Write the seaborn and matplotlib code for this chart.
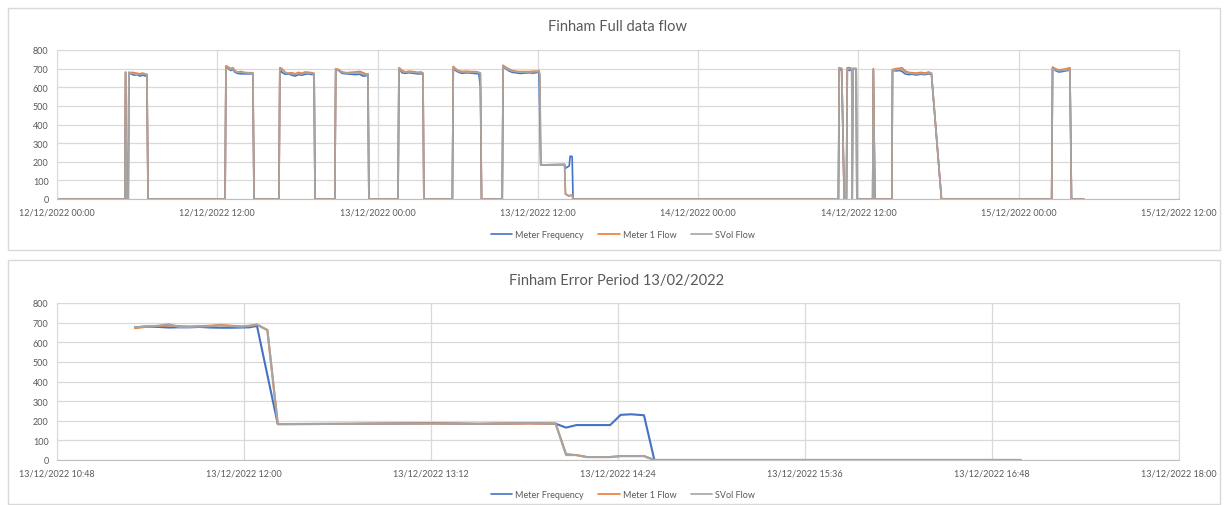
import pandas as pd
import numpy as np
import matplotlib.pyplot as plt
import matplotlib.dates as mdates
from matplotlib.patches import Rectangle
import seaborn as sns

sns.set_style("white")
plt.rcParams['font.family'] = ['Lato', 'DejaVu Sans']

# ==================== DATA ====================
series_names = ['Meter Frequency', 'Meter 1 Flow', 'SVol Flow']
series_colors = ['#4472C4', '#ED7D31', '#A5A5A5']

# Full data flow (12/12 - 15/12), one line per run block
full_times = [
    "2022-12-12 00:00", "2022-12-12 05:05", "2022-12-12 05:08", "2022-12-12 05:13", "2022-12-12 05:20", "2022-12-12 05:23", "2022-12-12 05:35", "2022-12-12 05:47", "2022-12-12 06:00", "2022-12-12 06:12", "2022-12-12 06:25", "2022-12-12 06:40", "2022-12-12 06:44", "2022-12-12 06:49",
    "2022-12-12 12:35", "2022-12-12 12:39", "2022-12-12 12:50", "2022-12-12 13:00", "2022-12-12 13:10", "2022-12-12 13:20", "2022-12-12 13:30", "2022-12-12 13:45", "2022-12-12 14:00", "2022-12-12 14:20", "2022-12-12 14:40", "2022-12-12 14:45",
    "2022-12-12 16:37", "2022-12-12 16:41", "2022-12-12 16:50", "2022-12-12 17:05", "2022-12-12 17:20", "2022-12-12 17:35", "2022-12-12 17:50", "2022-12-12 18:05", "2022-12-12 18:20", "2022-12-12 18:35", "2022-12-12 18:50", "2022-12-12 19:05", "2022-12-12 19:15", "2022-12-12 19:19",
    "2022-12-12 20:48", "2022-12-12 20:52", "2022-12-12 21:05", "2022-12-12 21:20", "2022-12-12 21:40", "2022-12-12 22:00", "2022-12-12 22:20", "2022-12-12 22:40", "2022-12-12 22:55", "2022-12-12 23:10", "2022-12-12 23:17", "2022-12-12 23:21",
    "2022-12-13 01:32", "2022-12-13 01:36", "2022-12-13 01:50", "2022-12-13 02:05", "2022-12-13 02:20", "2022-12-13 02:40", "2022-12-13 03:00", "2022-12-13 03:15", "2022-12-13 03:24", "2022-12-13 03:28",
    "2022-12-13 05:36", "2022-12-13 05:40", "2022-12-13 05:50", "2022-12-13 06:05", "2022-12-13 06:20", "2022-12-13 06:40", "2022-12-13 07:00", "2022-12-13 07:20", "2022-12-13 07:35", "2022-12-13 07:42", "2022-12-13 07:47",
    "2022-12-13 09:20", "2022-12-13 09:24", "2022-12-13 09:35", "2022-12-13 09:50", "2022-12-13 10:05", "2022-12-13 10:20", "2022-12-13 10:40", "2022-12-13 11:00", "2022-12-13 11:20", "2022-12-13 11:40", "2022-12-13 12:00", "2022-12-13 12:05", "2022-12-13 12:09", "2022-12-13 12:13", "2022-12-13 14:00", "2022-12-13 14:04", "2022-12-13 14:21", "2022-12-13 14:25", "2022-12-13 14:34", "2022-12-13 14:38",
    "2022-12-14 10:30", "2022-12-14 10:34", "2022-12-14 10:45", "2022-12-14 10:56", "2022-12-14 11:06", "2022-12-14 11:10", "2022-12-14 11:20", "2022-12-14 11:30", "2022-12-14 11:32", "2022-12-14 11:35", "2022-12-14 11:50", "2022-12-14 11:53", "2022-12-14 13:04", "2022-12-14 13:07", "2022-12-14 13:14",
    "2022-12-14 14:30", "2022-12-14 14:33", "2022-12-14 14:50", "2022-12-14 15:05", "2022-12-14 15:15", "2022-12-14 15:30", "2022-12-14 15:45", "2022-12-14 16:00", "2022-12-14 16:20", "2022-12-14 16:40", "2022-12-14 17:00", "2022-12-14 17:15", "2022-12-14 17:28", "2022-12-14 18:13",
    "2022-12-15 02:28", "2022-12-15 02:32", "2022-12-15 02:45", "2022-12-15 03:00", "2022-12-15 03:15", "2022-12-15 03:30", "2022-12-15 03:50", "2022-12-15 03:57", "2022-12-15 04:52",
]
full_freq = [
    0, 0, 680, 0, 0, 680, 670, 665, 668, 660, 665, 660, 665, 0,
    0, 710, 700, 690, 695, 680, 675, 672, 672, 672, 672, 0,
    0, 700, 680, 670, 672, 665, 660, 668, 665, 670, 672, 668, 670, 0,
    0, 695, 690, 675, 672, 670, 668, 670, 660, 662, 668, 0,
    0, 700, 678, 675, 678, 675, 672, 672, 670, 0,
    0, 700, 690, 680, 675, 678, 676, 674, 672, 600, 0,
    0, 712, 700, 688, 680, 678, 674, 676, 678, 676, 680, 683, 433, 183, 185, 165, 178, 230, 228, 0,
    0, 705, 690, 0, 0, 700, 690, 700, 0, 700, 700, 0, 0, 690, 0,
    0, 690, 688, 690, 685, 672, 668, 670, 666, 670, 668, 672, 670, 0,
    0, 705, 690, 682, 684, 688, 692, 0, 0,
]
full_meter1 = [
    0, 0, 680, 0, 0, 675, 680, 678, 675, 672, 676, 670, 670, 0,
    0, 715, 708, 700, 705, 690, 680, 685, 680, 678, 678, 0,
    0, 705, 700, 680, 676, 678, 672, 680, 675, 682, 680, 678, 675, 0,
    0, 700, 695, 682, 678, 680, 682, 685, 678, 670, 672, 0,
    0, 705, 690, 682, 686, 684, 680, 682, 676, 0,
    0, 712, 700, 688, 685, 686, 684, 684, 680, 676, 0,
    0, 718, 708, 698, 690, 686, 684, 684, 684, 686, 686, 690, 662, 183, 185, 28, 15, 20, 20, 0,
    0, 705, 700, 0, 0, 705, 705, 700, 0, 700, 700, 0, 0, 700, 0,
    0, 695, 700, 702, 705, 688, 680, 678, 676, 680, 676, 682, 676, 0,
    0, 708, 700, 692, 695, 698, 705, 0, 0,
]
full_svol = [
    0, 0, 680, 0, 0, 680, 675, 672, 670, 668, 670, 668, 668, 0,
    0, 705, 705, 695, 700, 685, 680, 680, 678, 676, 676, 0,
    0, 700, 695, 678, 675, 672, 668, 674, 672, 676, 676, 674, 672, 0,
    0, 698, 690, 680, 676, 675, 676, 678, 670, 666, 670, 0,
    0, 700, 685, 680, 682, 680, 678, 676, 674, 0,
    0, 708, 696, 684, 682, 682, 680, 680, 678, 674, 0,
    0, 710, 704, 694, 686, 684, 680, 680, 682, 682, 684, 690, 662, 183, 185, 25, 15, 20, 20, 0,
    0, 705, 700, 0, 0, 700, 698, 700, 0, 700, 700, 0, 0, 690, 0,
    0, 692, 694, 696, 695, 680, 676, 674, 672, 674, 672, 676, 674, 0,
    0, 700, 695, 688, 690, 692, 696, 0, 0,
]

# Error period on 13/12
err_times = [
    "11:18", "11:22", "11:27", "11:31", "11:35", "11:39", "11:43", "11:47", "11:51", "11:55",
    "11:59", "12:02", "12:05", "12:09", "12:13", "12:40", "13:12", "13:30", "13:50", "14:00",
    "14:04", "14:08", "14:12", "14:21", "14:25", "14:29", "14:34", "14:38", "16:59",
]
err_freq = [
    676, 680, 678, 675, 676, 676, 678, 675, 674, 674,
    675, 676, 683, 433, 183, 184, 188, 184, 188, 185,
    165, 178, 178, 178, 230, 233, 228, 0, 0,
]
err_meter1 = [
    672, 678, 683, 686, 682, 680, 682, 684, 688, 684,
    680, 682, 690, 662, 183, 184, 186, 184, 186, 185,
    30, 25, 15, 15, 20, 20, 20, 0, 0,
]
err_svol = [
    676, 680, 684, 692, 678, 678, 680, 682, 686, 682,
    680, 684, 690, 662, 183, 184, 186, 184, 188, 185,
    25, 25, 15, 15, 20, 20, 20, 0, 0,
]


def to_long(times, freq, meter1, svol):
    df = pd.DataFrame({'time': pd.to_datetime(times),
                       series_names[0]: freq,
                       series_names[1]: meter1,
                       series_names[2]: svol})
    return df.melt(id_vars='time', var_name='series', value_name='flow')


df_full = to_long(full_times, full_freq, full_meter1, full_svol)
df_err = to_long(["2022-12-13 " + t for t in err_times], err_freq, err_meter1, err_svol)

# ==================== FIGURE ====================
W, H = 1225, 506
fig = plt.figure(figsize=(W / 100, H / 100), dpi=100)

# chart borders (Excel style)
for top, bottom in [(9, 251), (261, 505)]:
    fig.patches.append(Rectangle((8 / W, 1 - bottom / H), (1220 - 8) / W, (bottom - top) / H,
                                 transform=fig.transFigure, fill=False, ec='#d9d9d9', lw=1))

ax1 = fig.add_axes([57 / W, 1 - 200 / H, (1179 - 57) / W, (200 - 51) / H])
ax2 = fig.add_axes([57 / W, 1 - 461 / H, (1179 - 57) / W, (461 - 304) / H])

palette = dict(zip(series_names, series_colors))
sns.lineplot(data=df_full, x='time', y='flow', hue='series', hue_order=series_names,
             palette=palette, estimator=None, linewidth=1.2, ax=ax1, legend=True)
sns.lineplot(data=df_err, x='time', y='flow', hue='series', hue_order=series_names,
             palette=palette, estimator=None, linewidth=1.5, ax=ax2, legend=False)

handles, labels = ax1.get_legend_handles_labels()
ax1.get_legend().remove()

axis_setup = [
    (ax1, pd.Timestamp("2022-12-12 00:00"), pd.Timestamp("2022-12-15 12:00"), '12h'),
    (ax2, pd.Timestamp("2022-12-13 10:48"), pd.Timestamp("2022-12-13 18:00"), '72min'),
]
for ax, start, end, step in axis_setup:
    ax.set_xlim(start, end)
    ax.set_xticks(pd.date_range(start, end, freq=step))
    ax.xaxis.set_major_formatter(mdates.DateFormatter('%d/%m/%Y %H:%M'))
    ax.set_ylim(0, 800)
    ax.set_yticks(range(0, 801, 100))
    ax.grid(True, color='#d9d9d9', lw=0.9)
    ax.set_axisbelow(True)
    for s in ax.spines.values():
        s.set_color('#d9d9d9')
    ax.spines['bottom'].set_color('#bfbfbf')
    ax.tick_params(length=0, labelsize=6.5, colors='#595959', pad=6)
    ax.set_xlabel('')
    ax.set_ylabel('')

fig.text(617 / W, 1 - 27 / H, 'Finham Full data flow', ha='center', va='center',
         fontsize=10.5, color='#595959')
fig.text(617 / W, 1 - 281 / H, 'Finham Error Period 13/02/2022', ha='center', va='center',
         fontsize=10.5, color='#595959')

for y in [236, 496]:
    fig.legend(handles, labels, loc='center', bbox_to_anchor=(623 / W, 1 - y / H), ncol=3,
               frameon=False, fontsize=6.5, handlelength=2.4, handletextpad=0.3,
               columnspacing=1.6, labelcolor='#595959')

fig.savefig('out.png', dpi=100)
